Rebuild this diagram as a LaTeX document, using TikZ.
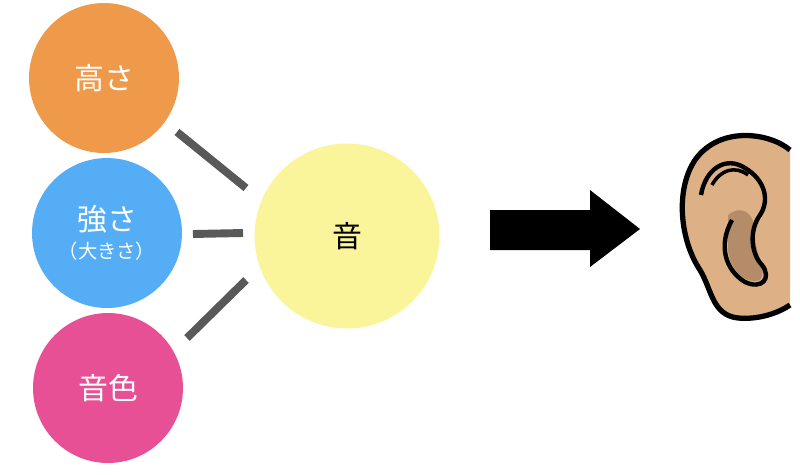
\documentclass[tikz,border=0pt]{standalone}
\usepackage{fontspec}
\newfontfamily\cjk{Noto Sans CJK JP}
\usetikzlibrary{positioning}
\definecolor{takasa}{HTML}{EE9A4A}
\definecolor{tsuyosa}{HTML}{55AEF5}
\definecolor{neiro}{HTML}{E85096}
\definecolor{oto}{HTML}{FAF59A}
\definecolor{hada}{HTML}{DDB185}
\definecolor{kage}{HTML}{B48C69}
\begin{document}
\begin{tikzpicture}[x=0.02cm,y=-0.02cm,
	elem/.style={circle,minimum size=3cm,inner sep=0pt,text=white,font=\cjk\fontsize{17}{20}\selectfont},
	link/.style={line width=4.5pt,draw=black!65}]
	\useasboundingbox (0,0) rectangle (800,474);
	
	\node[elem, fill=takasa]  (T) at (104,78)  {高さ};
	\node[elem, fill=tsuyosa] (S) at (107,233) {\shortstack{強さ\\[2pt]{\fontsize{11}{12}\selectfont（大きさ）}}};
	\node[elem, fill=neiro]   (N) at (108,388) {音色};
	\node[elem, fill=oto, minimum size=3.7cm, text=black] (O) at (347,236) {音};
	
	% short bars between the elements and the sound
	\coordinate (t1) at (177,132); \coordinate (t2) at (246,188);
	\coordinate (s1) at (193,234); \coordinate (s2) at (243,233);
	\coordinate (n1) at (187,338); \coordinate (n2) at (246,280);
	\draw[link] (t1) -- (t2);
	\draw[link] (s1) -- (s2);
	\draw[link] (n1) -- (n2);
	
	% arrow to the ear
	\fill (490,210) -- (590,210) -- (590,190) -- (640,229) -- (590,267) -- (590,250) -- (490,250) -- cycle;
	
	% ear
	\fill[hada] (790,150) .. controls (770,133) and (720,125) .. (695,160)
		.. controls (675,190) and (680,240) .. (700,270)
		.. controls (712,290) and (712,315) .. (738,318)
		.. controls (760,320) and (780,312) .. (790,305) -- cycle;
	\draw[line width=3pt] (790,150) .. controls (770,133) and (720,125) .. (695,160)
		.. controls (675,190) and (680,240) .. (700,270)
		.. controls (712,290) and (712,315) .. (738,318)
		.. controls (760,320) and (780,312) .. (790,305);
	\fill[kage] (728,215) .. controls (740,205) and (755,210) .. (755,235)
		.. controls (755,255) and (768,270) .. (760,280)
		.. controls (745,285) and (730,270) .. (728,250) -- cycle;
	\draw[line width=2.5pt] (701,195) .. controls (705,170) and (725,155) .. (745,168)
		.. controls (765,180) and (770,200) .. (760,215)
		.. controls (748,232) and (752,255) .. (762,265)
		.. controls (772,278) and (762,290) .. (745,282)
		.. controls (725,270) and (718,245) .. (732,220);
	\draw[line width=2pt] (712,185) .. controls (720,170) and (735,165) .. (748,175);
\end{tikzpicture}
\end{document}
